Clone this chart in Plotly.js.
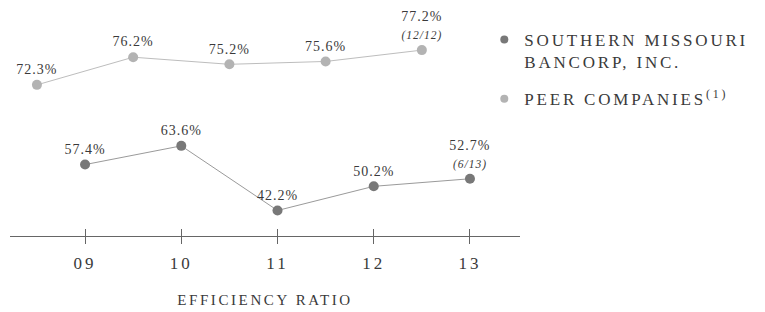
<!DOCTYPE html>
<html>
<head>
<meta charset="utf-8">
<script src="https://cdn.plot.ly/plotly-3.0.1.min.js"></script>
<style>
  html, body { margin: 0; padding: 0; background: #fff; }
  #chart { width: 765px; height: 312px; }
  .textpoint text { letter-spacing: 1px; }
  .xtick text { letter-spacing: 3px; }
  text.xtitle { letter-spacing: 2.6px; }
  text.legendtext { letter-spacing: 2.8px; }
</style>
</head>
<body>
<div id="chart"></div>
<script>
// ---- data ----
const years = [2009, 2010, 2011, 2012, 2013];
const yearLabels = ['09', '10', '11', '12', '13'];
const southernValues = [57.4, 63.6, 42.2, 50.2, 52.7];
const southernNotes = ['', '', '', '', '(6/13)'];
const peerValues = [72.3, 76.2, 75.2, 75.6, 77.2];
const peerNotes = ['', '', '', '', '(12/12)'];
const southernName = 'SOUTHERN MISSOURI<br>BANCORP, INC.';
const peerName = 'PEER COMPANIES<sup>(1)</sup>';
const axisTitle = 'EFFICIENCY RATIO';

// ---- styling ----
const serif = '"Liberation Serif", "DejaVu Serif", serif';
const textColor = '#3a3a3a';
const peerShift = -0.5; // peers drawn half a period before each year
const xRange = [2008.22, 2013.52];

function labels(vals, notes) {
  return vals.map((v, i) => v.toFixed(1) + '%' +
    (notes[i] ? '<br><span style="font-size:11.5px"><i>' + notes[i] + '</i></span>' : ''));
}

const southern = {
  x: years, y: southernValues, xaxis: 'x', yaxis: 'y',
  mode: 'lines+markers+text', showlegend: false,
  text: labels(southernValues, southernNotes), textposition: 'top center',
  textfont: { family: serif, size: 14, color: textColor },
  line: { color: '#9a9a9a', width: 1 },
  marker: { color: '#787878', size: 10 },
  cliponaxis: false, hoverinfo: 'skip'
};
const peer = {
  x: years.map(v => v + peerShift), y: peerValues, xaxis: 'x2', yaxis: 'y2',
  mode: 'lines+markers+text', showlegend: false,
  text: labels(peerValues, peerNotes), textposition: 'top center',
  textfont: { family: serif, size: 14, color: textColor },
  line: { color: '#bdbdbd', width: 1 },
  marker: { color: '#b3b3b3', size: 10 },
  cliponaxis: false, hoverinfo: 'skip'
};
// legend-only entries, placed on a thin helper strip whose x grid gives the upper tick halves
const legSouthern = {
  x: [null], y: [null], xaxis: 'x3', yaxis: 'y3', mode: 'markers', name: southernName, legendgroup: 'a',
  marker: { color: '#787878', size: 8 }, hoverinfo: 'skip'
};
const legPeer = {
  x: [null], y: [null], xaxis: 'x3', yaxis: 'y3', mode: 'markers', name: peerName, legendgroup: 'b',
  marker: { color: '#b3b3b3', size: 8 }, hoverinfo: 'skip'
};

const tickCommon = {
  range: xRange, tickvals: years, ticktext: yearLabels, tickcolor: '#666', ticklen: 7, tickwidth: 1,
  showgrid: false, zeroline: false
};

const layout = {
  width: 765, height: 312,
  margin: { l: 10, r: 245, t: 0, b: 76 },
  paper_bgcolor: '#fff', plot_bgcolor: 'rgba(0,0,0,0)',
  font: { family: serif, color: textColor },
  xaxis: Object.assign({}, tickCommon, {
    ticks: 'outside', showline: true, linecolor: '#666', linewidth: 1,
    tickfont: { family: serif, size: 17, color: textColor }, ticklabelstandoff: 5,
    title: { text: axisTitle, font: { family: serif, size: 15, color: textColor }, standoff: 22 },
    automargin: false
  }),
  xaxis2: Object.assign({}, tickCommon, {
    overlaying: 'x', anchor: 'y2', side: 'bottom', ticks: 'inside', showticklabels: false,
    showline: false
  }),
  xaxis3: Object.assign({}, tickCommon, {
    anchor: 'y3', ticks: '', showticklabels: false, showline: false,
    showgrid: true, gridcolor: '#666', gridwidth: 1
  }),
  yaxis: { range: [33.75, 111.9], visible: false, fixedrange: true },
  yaxis2: { range: [50.98, 84.27], overlaying: 'y', anchor: 'x2', visible: false, fixedrange: true },
  yaxis3: { domain: [0, 0.0297], range: [0, 1], anchor: 'x3', showgrid: false, zeroline: false,
            showticklabels: false, ticks: '', showline: false },
  showlegend: true,
  legend: {
    x: 0.93, xanchor: 'left', y: 0.907, yanchor: 'top',
    font: { family: serif, size: 17, color: textColor },
    valign: 'top', traceorder: 'grouped', tracegroupgap: 12,
    bgcolor: 'rgba(0,0,0,0)'
  }
};

Plotly.newPlot('chart', [southern, peer, legSouthern, legPeer], layout,
  { displayModeBar: false, staticPlot: true });
</script>
</body>
</html>
